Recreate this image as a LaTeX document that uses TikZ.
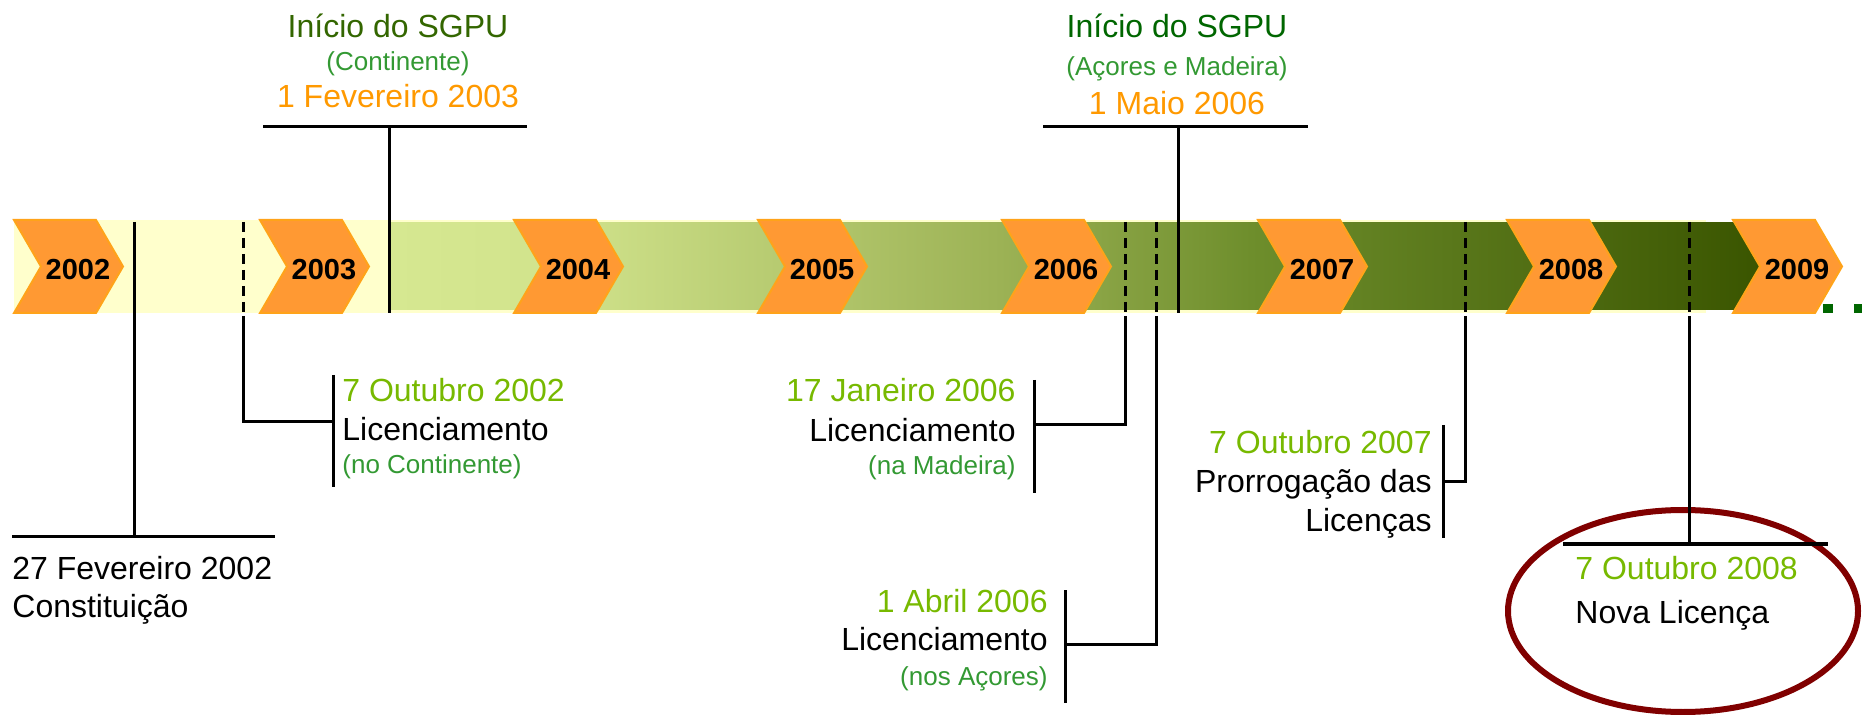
\documentclass[tikz,border=0pt]{standalone}
\usepackage{fontspec}
\setmainfont{Liberation Sans}
\usepackage{xcolor}
\usetikzlibrary{calc}
\usetikzlibrary{positioning}
\definecolor{chevorange}{HTML}{FF9933}
\definecolor{chevedge}{HTML}{FFA31A}
\definecolor{paleyellow}{HTML}{FFFFCC}
\definecolor{datelime}{HTML}{77B900}
\definecolor{notegreen}{HTML}{339933}
\definecolor{sgpuolive}{HTML}{336600}
\definecolor{sgpugreen}{HTML}{006600}
\definecolor{dateorange}{HTML}{FF9900}
\definecolor{ringred}{HTML}{800000}
\definecolor{bandA}{HTML}{D6E891}
\definecolor{bandB}{HTML}{D1E38C}
\definecolor{bandC}{HTML}{9CB255}
\definecolor{bandD}{HTML}{6E8E2C}
\definecolor{bandE}{HTML}{3A5500}

\tikzset{
  eventline/.style={black, line width=1.5pt},
  eventdash/.style={black, line width=1.5pt, dash pattern=on 5pt off 3pt},
  bigtxt/.style={font=\fontsize{16}{19}\selectfont, inner sep=0pt},
  smalltxt/.style={font=\fontsize{13}{16}\selectfont, inner sep=0pt},
  yeartxt/.style={font=\fontsize{14.5}{17}\selectfont\bfseries, inner sep=0pt},
}

\begin{document}
\begin{tikzpicture}[x=0.5pt, y=-0.5pt]
		\useasboundingbox (0,0) rectangle (1862,715);

		% band
		\fill[paleyellow] (14,220) rectangle (1706,313);
		\shade[left color=bandA, right color=bandB] (389,223) rectangle (561,310);
		\shade[left color=bandB, right color=bandC] (560,223) rectangle (1001,310);
		\shade[left color=bandC, right color=bandD] (1000,223) rectangle (1251,310);
		\shade[left color=bandD, right color=bandE] (1250,223) rectangle (1760,310);

		% years
		\foreach \x/\yr in {14/2002, 260/2003, 514/2004, 758/2005, 1002/2006, 1258/2007, 1507/2008, 1733/2009} {
			\filldraw[fill=chevorange, draw=chevedge, line width=1pt] (\x,220) -- ++(82,0) -- ++(27,46.5) -- ++(-27,46.5) -- ++(-82,0) -- ++(27,-46.5) -- cycle;
			\node[yeartxt] (y\yr) at (\x+64,270) {\yr};
		}
		\fill[sgpugreen] (1823,304) rectangle ++(10,9);
		\fill[sgpugreen] (1854,304) rectangle ++(9,9);

		% 27 Fevereiro 2002
		\coordinate (c02a) at (134,222);
		\coordinate (c02b) at (134,537);
		\coordinate (b02l) at (12,537);
		\coordinate (b02r) at (275,537);
		\draw[eventline] (c02a) -- (c02b);
		\draw[eventline] (b02l) -- (b02r);
		\node[bigtxt, anchor=base west] (fev02) at (12,579) {27 Fevereiro 2002};
		\node[bigtxt, anchor=base west] (const02) at (12,617) {Constituição};

		% 7 Outubro 2002
		\coordinate (c02d) at (243,222);
		\coordinate (c02e) at (243,316);
		\coordinate (c02f) at (243,422);
		\coordinate (k02) at (333,422);
		\coordinate (k02t) at (333,375);
		\coordinate (k02b) at (333,487);
		\draw[eventdash] (c02d) -- ($(c02e)+(0,-3)$);
		\draw[eventline] (c02e) -- (c02f) -- (k02);
		\draw[eventline] (k02t) -- (k02b);
		\node[bigtxt, datelime, anchor=base west] (out02) at (342,402) {7 Outubro 2002};
		\node[bigtxt, anchor=base west] (lic02) at (342,441) {Licenciamento};
		\node[smalltxt, notegreen, anchor=base west] (cont02) at (342,474) {(no Continente)};

		% 1 Fevereiro 2003
		\coordinate (c03a) at (389,313);
		\coordinate (c03b) at (389,127);
		\coordinate (b03l) at (263,127);
		\coordinate (b03r) at (527,127);
		\draw[eventline] (c03a) -- (c03b);
		\draw[eventline] (b03l) -- (b03r);
		\node[bigtxt, sgpuolive, anchor=base] (sgpu03) at (398,38) {Início do SGPU};
		\node[smalltxt, notegreen, anchor=base] (cont03) at (398,71) {(Continente)};
		\node[bigtxt, dateorange, anchor=base] (fev03) at (398,108) {1 Fevereiro 2003};

		% 17 Janeiro 2006
		\coordinate (c06a) at (1125,222);
		\coordinate (c06b) at (1125,316);
		\coordinate (c06c) at (1125,425);
		\coordinate (k06) at (1034,425);
		\coordinate (k06t) at (1034,380);
		\coordinate (k06b) at (1034,493);
		\draw[eventdash] (c06a) -- ($(c06b)+(0,-3)$);
		\draw[eventline] (c06b) -- (c06c) -- (k06);
		\draw[eventline] (k06t) -- (k06b);
		\node[bigtxt, datelime, anchor=base east] (jan06) at (1016,402) {17 Janeiro 2006};
		\node[bigtxt, anchor=base east] (lic06m) at (1016,442) {Licenciamento};
		\node[smalltxt, notegreen, anchor=base east] (mad06) at (1016,475) {(na Madeira)};

		% 1 Abril 2006
		\coordinate (c06d) at (1156,222);
		\coordinate (c06e) at (1156,316);
		\coordinate (c06f) at (1156,644);
		\coordinate (k06a) at (1065,644);
		\coordinate (k06at) at (1065,590);
		\coordinate (k06ab) at (1065,703);
		\draw[eventdash] (c06d) -- ($(c06e)+(0,-3)$);
		\draw[eventline] (c06e) -- (c06f) -- (k06a);
		\draw[eventline] (k06at) -- (k06ab);
		\node[bigtxt, datelime, anchor=base east] (abr06) at (1048,612) {1 Abril 2006};
		\node[bigtxt, anchor=base east] (lic06a) at (1048,650) {Licenciamento};
		\node[smalltxt, notegreen, anchor=base east] (aco06) at (1048,685) {(nos Açores)};

		% 1 Maio 2006
		\coordinate (c06g) at (1178,313);
		\coordinate (c06h) at (1178,127);
		\coordinate (b06l) at (1043,127);
		\coordinate (b06r) at (1308,127);
		\draw[eventline] (c06g) -- (c06h);
		\draw[eventline] (b06l) -- (b06r);
		\node[bigtxt, sgpugreen, anchor=base] (sgpu06) at (1177,38) {Início do SGPU};
		\node[smalltxt, notegreen, anchor=base] (ilhas06) at (1177,76) {(Açores e Madeira)};
		\node[bigtxt, dateorange, anchor=base] (mai06) at (1177,115) {1 Maio 2006};

		% 7 Outubro 2007
		\coordinate (c07a) at (1465,222);
		\coordinate (c07b) at (1465,316);
		\coordinate (c07c) at (1465,482);
		\coordinate (k07) at (1443,482);
		\coordinate (k07t) at (1443,425);
		\coordinate (k07b) at (1443,538);
		\draw[eventdash] (c07a) -- ($(c07b)+(0,-3)$);
		\draw[eventline] (c07b) -- (c07c) -- (k07);
		\draw[eventline] (k07t) -- (k07b);
		\node[bigtxt, datelime, anchor=base east] (out07) at (1432,454) {7 Outubro 2007};
		\node[bigtxt, anchor=base east] (pro07) at (1432,493) {Prorrogação das};
		\node[bigtxt, anchor=base east] (lic07) at (1432,531) {Licenças};

		% 7 Outubro 2008
		\draw[ringred, line width=3pt] (1683,611) ellipse [x radius=87.5pt, y radius=50.5pt];
		\coordinate (c08a) at (1689,222);
		\coordinate (c08b) at (1689,316);
		\coordinate (c08c) at (1689,544);
		\coordinate (b08l) at (1563,544);
		\coordinate (b08r) at (1828,544);
		\draw[eventdash] (c08a) -- ($(c08b)+(0,-3)$);
		\draw[eventline] (c08b) -- (c08c);
		\draw[eventline] (b08l) -- (b08r);
		\node[bigtxt, datelime, anchor=base west] (out08) at (1575,580) {7 Outubro 2008};
		\node[bigtxt, anchor=base west] (nova08) at (1575,623) {Nova Licença};
	\end{tikzpicture}
\end{document}
